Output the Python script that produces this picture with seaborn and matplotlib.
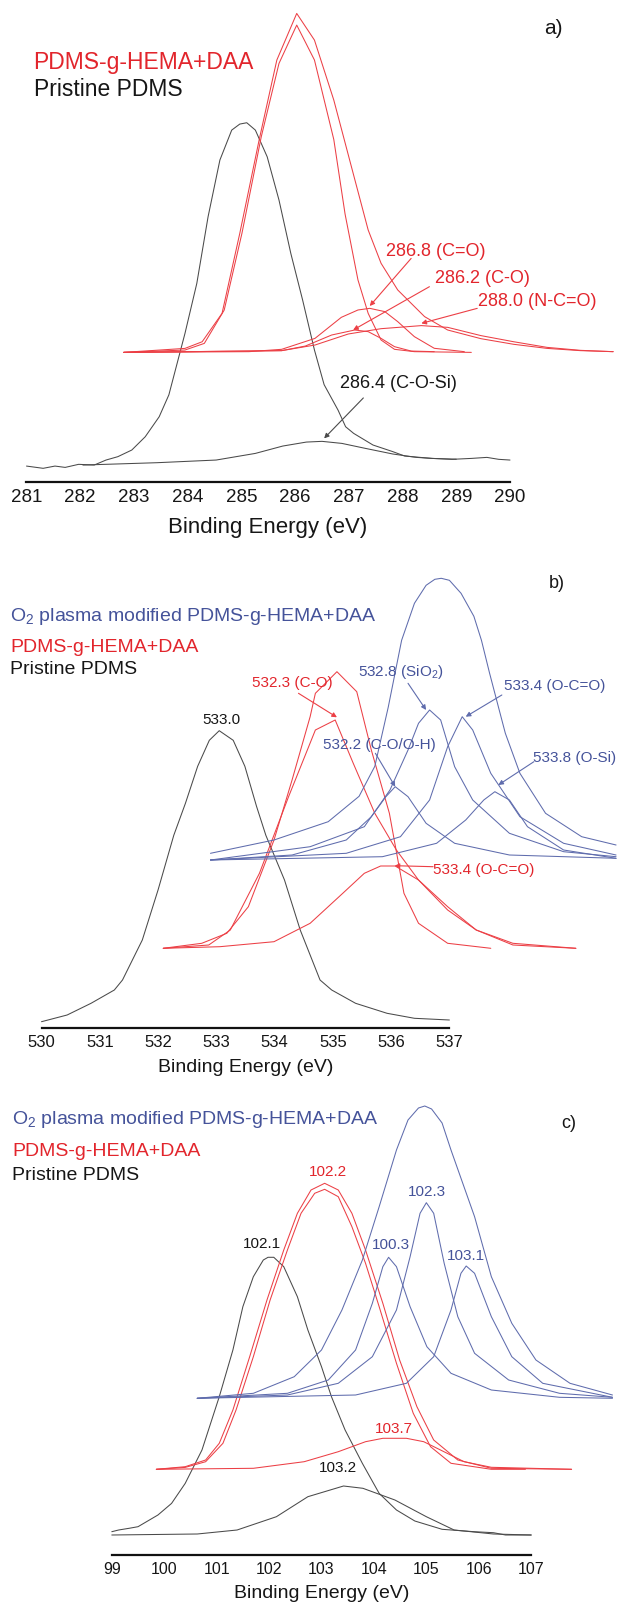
import matplotlib
matplotlib.use("Agg")
import matplotlib.pyplot as plt
import seaborn as sns
import numpy as np

sns.set_style("white")
plt.rcParams['font.family'] = ['Liberation Sans', 'DejaVu Sans']
plt.rcParams['mathtext.fontset'] = 'custom'
plt.rcParams['mathtext.rm'] = 'Liberation Sans'

RED = '#EC3F45'
BLUE = '#5F6CAD'
GREY = '#4A4A4A'
RED_T = '#E2252C'
BLUE_T = '#45539A'
BLK_T = '#161616'

# ---------------- Panel a : C1s ----------------
A_TICKS = list(range(281, 291))
A_BLK_RAW_E = [281.0, 281.31, 281.53, 281.72, 281.97, 282.26, 282.48, 282.70, 282.96, 283.21, 283.47,
               283.65, 283.95, 284.17, 284.38, 284.60, 284.82, 284.97, 285.10, 285.26, 285.48, 285.70,
               285.92, 286.14, 286.36, 286.54, 286.80, 286.94, 287.09, 287.45, 287.82, 288.04, 288.55,
               288.92, 289.28, 289.57, 289.79, 290.0]
A_BLK_RAW_I = [15.3, 13.1, 15.3, 14.0, 17.0, 16.3, 21.2, 24.5, 31.0, 44.0, 63.6,
               85.0, 145.2, 194.1, 259.4, 314.9, 344.2, 350.1, 351.4, 344.2, 318.1, 275.7,
               223.5, 177.8, 128.9, 95.0, 70.0, 53.8, 47.3, 35.9, 29.4, 25.1, 22.8,
               21.9, 22.8, 23.8, 21.9, 21.2]
A_BLK_COMP_E = [282.05, 283.43, 284.53, 285.26, 285.77, 286.21, 286.50, 286.87, 287.31, 287.82, 288.26, 288.55, 289.0]
A_BLK_COMP_I = [16.3, 18.6, 21.2, 27.7, 34.9, 38.8, 39.5, 37.5, 32.6, 27.1, 23.8, 22.8, 22.0]
A_RED_RAW_E = [282.81, 283.95, 284.27, 284.64, 284.97, 285.33, 285.66, 286.03, 286.36, 286.72, 287.09,
               287.36, 287.60, 287.91, 288.41, 288.84, 289.46, 290.07, 290.69, 291.31, 291.92]
A_RED_RAW_I = [126.6, 130.5, 137.0, 164.8, 243.1, 334.5, 412.8, 458.4, 432.3, 373.6, 300.0,
               246.4, 213.8, 187.7, 161.6, 148.5, 140.0, 134.5, 130.5, 128.3, 127.3]
A_RED_FIT_E = [282.81, 283.95, 284.31, 284.68, 285.01, 285.37, 285.70, 286.03, 286.36, 286.72, 286.93,
               287.17, 287.36, 287.60, 287.85, 288.22, 289.28]
A_RED_FIT_I = [126.6, 128.9, 135.4, 168.0, 243.1, 337.7, 409.5, 447.0, 412.8, 335.0, 262.0,
               197.5, 164.8, 138.7, 129.6, 127.3, 126.6]
A_CDO_E = [282.81, 285.14, 285.75, 286.37, 286.86, 287.17, 287.39, 287.67, 287.91, 288.22, 288.59, 289.15]
A_CDO_I = [126.6, 127.3, 129.6, 140.3, 160.9, 168.1, 169.7, 166.5, 156.7, 142.0, 130.6, 127.3]
A_CO_E = [282.81, 285.75, 286.19, 286.68, 287.11, 287.36, 287.60, 287.85, 288.16, 288.59]
A_CO_I = [126.6, 128.3, 132.8, 143.6, 148.5, 146.9, 140.3, 132.2, 127.9, 127.3]
A_NCO_E = [282.81, 285.75, 286.37, 286.99, 287.60, 288.35, 288.84, 289.46, 290.07, 290.69, 291.31, 291.92]
A_NCO_I = [126.6, 128.3, 133.8, 144.6, 149.8, 152.8, 151.1, 143.0, 137.0, 131.5, 128.6, 127.3]

# ---------------- Panel b : O1s ----------------
B_TICKS = list(range(530, 538))
B_BLK_E = [530.0, 530.44, 530.85, 531.25, 531.39, 531.73, 532.0, 532.27, 532.47, 532.68, 532.88, 533.05,
           533.29, 533.49, 533.69, 533.85, 534.17, 534.44, 534.78, 534.98, 535.39, 535.93, 536.40, 537.0]
B_BLK_I = [6.6, 13.3, 25.0, 38.3, 48.3, 88.3, 138.3, 193.0, 225.0, 262.0, 288.0, 297.6,
           288.0, 262.0, 222.0, 193.0, 148.3, 98.3, 48.3, 38.3, 25.0, 15.0, 10.0, 8.3]
B_RED_RAW_E = [532.09, 532.75, 533.18, 533.55, 533.99, 534.30, 534.61, 534.70, 535.07, 535.41, 535.66,
               535.97, 536.22, 536.47, 536.97, 537.71]
B_RED_RAW_I = [80.0, 85.0, 95.0, 121.6, 188.3, 248.3, 311.6, 335.0, 356.6, 336.6, 278.3,
               215.0, 135.0, 105.0, 85.0, 80.0]
B_RED_CO_E = [532.09, 532.87, 533.24, 533.74, 534.24, 534.70, 535.04, 535.35, 535.72, 536.09, 536.47,
              536.97, 537.46, 538.09, 539.17]
B_RED_CO_I = [80.0, 83.3, 98.3, 155.0, 231.6, 298.3, 308.3, 265.0, 215.0, 178.3, 148.3,
              118.3, 98.3, 83.3, 80.0]
B_RED_OCO_E = [532.09, 533.06, 533.99, 534.61, 535.17, 535.54, 535.82, 536.07, 536.47, 536.97, 537.46, 538.09, 539.17]
B_RED_OCO_I = [80.0, 81.6, 86.6, 105.0, 135.0, 155.0, 162.3, 162.3, 148.3, 121.6, 98.3, 85.0, 80.0]
B_BLU_ENV_E = [532.90, 533.99, 534.92, 535.45, 535.72, 535.95, 536.18, 536.40, 536.60, 536.75, 536.86,
               537.00, 537.20, 537.42, 537.55, 537.69, 537.84, 537.96, 538.21, 538.65, 539.27, 539.86]
B_BLU_ENV_I = [175.0, 188.3, 206.6, 232.0, 262.0, 321.0, 388.0, 425.0, 443.0, 449.0, 450.0,
               448.0, 435.0, 412.0, 388.0, 355.0, 321.6, 295.0, 255.0, 215.0, 191.6, 183.3]
B_SIO2_E = [532.90, 534.61, 535.54, 535.98, 536.29, 536.47, 536.66, 536.85, 537.09, 537.40, 538.03, 538.96, 539.86]
B_SIO2_I = [168.3, 181.6, 201.6, 238.3, 278.3, 305.0, 318.3, 308.3, 261.6, 228.3, 195.0, 176.6, 171.6]
B_COH_E = [532.90, 534.30, 535.23, 535.66, 535.91, 536.07, 536.29, 536.60, 537.09, 538.03, 539.86]
B_COH_I = [168.3, 173.3, 188.3, 211.6, 231.6, 241.6, 231.6, 205.0, 185.0, 173.3, 170.0]
B_OCO_E = [532.90, 535.23, 536.16, 536.66, 536.97, 537.22, 537.40, 537.71, 538.21, 538.96, 539.86]
B_OCO_I = [168.3, 175.0, 191.6, 228.3, 281.6, 311.6, 298.3, 255.0, 211.6, 185.0, 173.3]
B_OSI_E = [532.90, 535.85, 536.78, 537.28, 537.59, 537.78, 538.03, 538.34, 538.96, 539.86]
B_OSI_I = [168.3, 171.6, 185.0, 208.3, 228.3, 236.6, 228.3, 201.6, 178.3, 170.0]

# ---------------- Panel c : Si2p ----------------
C_TICKS = list(range(99, 108))
C_BLK_RAW_E = [99.0, 99.13, 99.33, 99.5, 99.75, 99.88, 100.14, 100.40, 100.72, 101.05, 101.31, 101.50,
               101.70, 101.89, 101.98, 102.09, 102.28, 102.54, 102.74, 103.0, 103.19, 103.45, 103.78,
               104.10, 104.43, 104.78, 105.30, 105.91, 106.28, 106.51, 107.0]
C_BLK_RAW_I = [23.3, 25.0, 26.7, 28.3, 36.0, 40.0, 51.6, 71.6, 105.0, 158.3, 205.0, 248.3,
               278.3, 295.0, 297.7, 297.7, 288.3, 258.3, 225.0, 188.3, 158.3, 125.0, 91.6,
               61.6, 45.0, 34.0, 25.7, 23.3, 22.3, 20.0, 20.0]
C_BLK_COMP_E = [99.0, 100.63, 101.39, 102.14, 102.74, 103.42, 103.79, 104.40, 105.0, 105.53, 106.28, 107.0]
C_BLK_COMP_I = [20.0, 21.0, 25.0, 38.3, 58.3, 69.0, 66.7, 55.0, 38.3, 25.0, 21.0, 20.0]
C_RED_RAW_E = [99.85, 100.40, 100.79, 101.05, 101.31, 101.63, 101.96, 102.28, 102.54, 102.80, 103.06,
               103.32, 103.58, 103.84, 104.17, 104.49, 104.82, 105.14, 105.60, 106.24, 107.77]
C_RED_RAW_I = [85.7, 88.3, 95.0, 111.7, 145.0, 198.3, 255.0, 305.0, 341.7, 365.0, 371.7,
               365.0, 341.7, 305.0, 251.7, 195.0, 148.3, 115.0, 95.0, 86.7, 85.7]
C_RED_FIT_E = [99.85, 100.40, 100.79, 101.12, 101.37, 101.70, 102.02, 102.35, 102.61, 102.87, 103.06,
               103.32, 103.58, 103.84, 104.10, 104.43, 104.75, 105.08, 105.47, 106.24, 106.89]
C_RED_FIT_I = [85.7, 87.6, 93.3, 111.7, 145.0, 198.3, 255.0, 305.0, 341.7, 361.7, 365.7,
               358.3, 328.3, 291.7, 248.3, 191.7, 141.7, 108.3, 91.7, 85.7, 85.7]
C_RED_COMP_E = [99.85, 101.70, 102.67, 103.32, 103.84, 104.17, 104.62, 104.95, 105.27, 105.72, 106.24, 107.77]
C_RED_COMP_I = [85.7, 86.7, 93.3, 103.3, 113.3, 116.7, 116.7, 113.3, 105.0, 93.3, 87.7, 85.7]
C_BLU_ENV_E = [100.63, 101.70, 102.48, 103.0, 103.39, 103.78, 104.10, 104.43, 104.65, 104.85, 104.97,
               105.10, 105.30, 105.47, 105.92, 106.24, 106.63, 107.09, 107.74, 108.55]
C_BLU_ENV_I = [156.7, 161.7, 178.3, 205.0, 245.0, 295.0, 348.3, 405.0, 435.0, 447.0, 449.0,
               446.0, 432.0, 405.0, 338.3, 278.3, 231.7, 195.0, 171.7, 160.0]
C_BLU_1023_E = [100.63, 102.35, 103.32, 103.97, 104.43, 104.69, 104.88, 105.0, 105.14, 105.34, 105.60,
                105.92, 106.57, 107.54, 108.55]
C_BLU_1023_I = [156.7, 160.0, 171.7, 198.3, 245.0, 298.3, 341.7, 352.3, 341.7, 291.7, 238.3,
                201.7, 175.0, 161.7, 157.7]
C_BLU_1003_E = [100.63, 102.35, 103.13, 103.65, 103.97, 104.17, 104.28, 104.43, 104.69, 105.01, 105.47,
                106.24, 107.54, 108.55]
C_BLU_1003_I = [156.7, 161.7, 175.0, 205.0, 251.7, 288.3, 297.7, 288.3, 248.3, 208.3, 181.7,
                165.0, 157.7, 156.7]
C_BLU_1031_E = [100.63, 103.65, 104.62, 105.14, 105.47, 105.66, 105.76, 105.92, 106.24, 106.63, 107.22, 108.55]
C_BLU_1031_I = [156.7, 160.0, 171.7, 198.3, 245.0, 281.7, 289.0, 281.7, 238.3, 198.3, 171.7, 157.7]

W, H = 618, 1603
fig = plt.figure(figsize=(W / 100, H / 100), dpi=100)


def px2fig(x, y):
    return x / W, 1 - y / H


def make_axes(axis_y, top_y, ticks, px_first, px_last, yscale, labelsize, ticklen):
    e0, e1 = ticks[0], ticks[-1]
    ppe = (px_last - px_first) / (e1 - e0)
    ax = fig.add_axes([0, 1 - axis_y / H, 1, (axis_y - top_y) / H])
    ax.patch.set_alpha(0)
    ax.set_xlim(e0 - px_first / ppe, e0 + (W - px_first) / ppe)
    ax.set_ylim(0, (axis_y - top_y) / yscale)
    for s in ['left', 'right', 'top']:
        ax.spines[s].set_visible(False)
    ax.spines['bottom'].set_bounds(e0, e1)
    ax.spines['bottom'].set_linewidth(1.6)
    ax.spines['bottom'].set_color('#111111')
    ax.set_xticks(ticks)
    ax.set_xticklabels([str(t) for t in ticks])
    ax.set_xticks(np.arange(e0 + 0.5, e1, 1.0), minor=True)
    ax.tick_params(axis='x', which='major', direction='out', length=ticklen, width=1.2,
                   labelsize=labelsize, pad=1.5, color='#111111', labelcolor=BLK_T)
    ax.tick_params(axis='x', which='minor', direction='out', length=ticklen * 0.55, width=1.0,
                   color='#111111')
    ax.set_yticks([])
    ax.set_xlabel('')
    ax.set_ylabel('')
    return ax


def curve(ax, e, i, color, lw=0.75):
    sns.lineplot(x=e, y=i, ax=ax, color=color, lw=lw, sort=False, estimator=None)


def arrow(ax, tail, tip, color):
    ax.annotate('', xy=tip, xytext=tail,
                arrowprops=dict(arrowstyle='-|>', color=color, lw=0.8, mutation_scale=7,
                                shrinkA=0, shrinkB=0))


# ---- panel a
axA = make_axes(481.7, 0, A_TICKS, 26.5, 510.0, 1.0215, 13.5, 4)
curve(axA, A_BLK_RAW_E, A_BLK_RAW_I, GREY)
curve(axA, A_BLK_COMP_E, A_BLK_COMP_I, GREY)
curve(axA, A_RED_RAW_E, A_RED_RAW_I, RED)
curve(axA, A_RED_FIT_E, A_RED_FIT_I, RED)
curve(axA, A_CDO_E, A_CDO_I, RED)
curve(axA, A_CO_E, A_CO_I, RED)
curve(axA, A_NCO_E, A_NCO_I, RED)
axA.text(288.62, 225.2, '286.8 (C=O)', color=RED_T, fontsize=13, ha='center', va='center')
axA.text(289.49, 199.1, '286.2 (C-O)', color=RED_T, fontsize=13, ha='center', va='center')
axA.text(290.50, 176.2, '288.0 (N-C=O)', color=RED_T, fontsize=13, ha='center', va='center')
axA.text(287.93, 96.3, '286.4 (C-O-Si)', color=BLK_T, fontsize=13, ha='center', va='center')
arrow(axA, (288.16, 218.6), (287.39, 172.0), RED)
arrow(axA, (288.50, 190.9), (287.08, 148.5), RED)
arrow(axA, (289.39, 169.7), (288.35, 155.0), RED)
arrow(axA, (287.27, 82.0), (286.54, 42.4), GREY)
fig.text(*px2fig(33.6, 63), 'PDMS-g-HEMA+DAA', color=RED_T, fontsize=16.5, ha='left', va='center')
fig.text(*px2fig(33.6, 90), 'Pristine PDMS', color=BLK_T, fontsize=16.5, ha='left', va='center')
fig.text(*px2fig(553, 28), 'a)', color=BLK_T, fontsize=15, ha='center', va='center')
fig.text(*px2fig(268, 528), 'Binding Energy (eV)', color=BLK_T, fontsize=16, ha='center', va='center')

# ---- panel b
axB = make_axes(1028.3, 545, B_TICKS, 41.5, 449.4, 1.0, 12, 3.5)
curve(axB, B_BLK_E, B_BLK_I, GREY)
curve(axB, B_RED_RAW_E, B_RED_RAW_I, RED)
curve(axB, B_RED_CO_E, B_RED_CO_I, RED)
curve(axB, B_RED_OCO_E, B_RED_OCO_I, RED)
curve(axB, B_BLU_ENV_E, B_BLU_ENV_I, BLUE)
curve(axB, B_SIO2_E, B_SIO2_I, BLUE)
curve(axB, B_COH_E, B_COH_I, BLUE)
curve(axB, B_OCO_E, B_OCO_I, BLUE)
curve(axB, B_OSI_E, B_OSI_I, BLUE)
axB.text(533.08, 308.3, '533.0', color=BLK_T, fontsize=11, ha='center', va='center')
axB.text(534.30, 345.6, '532.3 (C-O)', color=RED_T, fontsize=11, ha='center', va='center')
axB.text(536.16, 356.6, '532.8 (SiO$_\\mathregular{2}$)', color=BLUE_T, fontsize=11, ha='center', va='center')
axB.text(538.80, 342.3, '533.4 (O-C=O)', color=BLUE_T, fontsize=11, ha='center', va='center')
axB.text(535.79, 283.3, '532.2 (C-O/O-H)', color=BLUE_T, fontsize=11, ha='center', va='center')
axB.text(539.86, 270.0, '533.8 (O-Si)', color=BLUE_T, fontsize=11, ha='right', va='center')
axB.text(536.72, 158.3, '533.4 (O-C=O)', color=RED_T, fontsize=11, ha='left', va='center')
arrow(axB, (534.41, 335.0), (535.07, 311.0), RED)
arrow(axB, (536.29, 345.0), (536.60, 318.3), BLUE)
arrow(axB, (537.90, 333.3), (537.28, 311.6), BLUE)
arrow(axB, (535.73, 275.0), (536.07, 241.6), BLUE)
arrow(axB, (538.45, 266.6), (537.84, 243.3), BLUE)
arrow(axB, (536.72, 161.6), (536.06, 162.6), RED)
fig.text(*px2fig(10, 617), 'O$_\\mathregular{2}$ plasma modified PDMS-g-HEMA+DAA', color=BLUE_T, fontsize=14,
         ha='left', va='center')
fig.text(*px2fig(10, 647), 'PDMS-g-HEMA+DAA', color=RED_T, fontsize=14, ha='left', va='center')
fig.text(*px2fig(10, 670), 'Pristine PDMS', color=BLK_T, fontsize=14, ha='left', va='center')
fig.text(*px2fig(557, 583), 'b)', color=BLK_T, fontsize=13, ha='center', va='center')
fig.text(*px2fig(245.5, 1067), 'Binding Energy (eV)', color=BLK_T, fontsize=14, ha='center', va='center')

# ---- panel c
axC = make_axes(1555, 1080, C_TICKS, 111.8, 531.2, 1.0, 11.5, 3.5)
curve(axC, C_BLK_RAW_E, C_BLK_RAW_I, GREY)
curve(axC, C_BLK_COMP_E, C_BLK_COMP_I, GREY)
curve(axC, C_RED_RAW_E, C_RED_RAW_I, RED)
curve(axC, C_RED_FIT_E, C_RED_FIT_I, RED)
curve(axC, C_RED_COMP_E, C_RED_COMP_I, RED)
curve(axC, C_BLU_ENV_E, C_BLU_ENV_I, BLUE)
curve(axC, C_BLU_1023_E, C_BLU_1023_I, BLUE)
curve(axC, C_BLU_1003_E, C_BLU_1003_I, BLUE)
curve(axC, C_BLU_1031_E, C_BLU_1031_I, BLUE)
axC.text(101.86, 310.7, '102.1', color=BLK_T, fontsize=11, ha='center', va='center')
axC.text(103.13, 383.3, '102.2', color=RED_T, fontsize=11, ha='center', va='center')
axC.text(104.33, 310.0, '100.3', color=BLUE_T, fontsize=11, ha='center', va='center')
axC.text(105.01, 363.3, '102.3', color=BLUE_T, fontsize=11, ha='center', va='center')
axC.text(105.76, 299.0, '103.1', color=BLUE_T, fontsize=11, ha='center', va='center')
axC.text(104.39, 125.7, '103.7', color=RED_T, fontsize=11, ha='center', va='center')
axC.text(103.32, 86.7, '103.2', color=BLK_T, fontsize=11, ha='center', va='center')
fig.text(*px2fig(12, 1120), 'O$_\\mathregular{2}$ plasma modified PDMS-g-HEMA+DAA', color=BLUE_T, fontsize=14,
         ha='left', va='center')
fig.text(*px2fig(12, 1152), 'PDMS-g-HEMA+DAA', color=RED_T, fontsize=14, ha='left', va='center')
fig.text(*px2fig(12, 1175), 'Pristine PDMS', color=BLK_T, fontsize=14, ha='left', va='center')
fig.text(*px2fig(569, 1123), 'c)', color=BLK_T, fontsize=13, ha='center', va='center')
fig.text(*px2fig(321.5, 1593), 'Binding Energy (eV)', color=BLK_T, fontsize=14, ha='center', va='center')

fig.savefig('out.png', dpi=100, facecolor='white')
